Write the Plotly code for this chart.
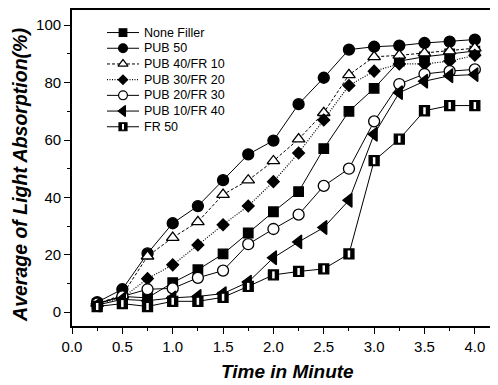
import plotly.graph_objects as go

# ---------------- data ----------------
time_min = [0.25, 0.5, 0.75, 1.0, 1.25, 1.5, 1.75, 2.0, 2.25, 2.5, 2.75, 3.0, 3.25, 3.5, 3.75, 4.0]
none_filler = [3, 5.5, 5, 10.3, 14.8, 20.3, 27.6, 35, 42, 57, 70, 78, 87.5, 89, 90, 91]
pub50 = [3.5, 8, 20.5, 31, 37, 46, 55, 59.8, 72.5, 81.7, 91.5, 92.5, 92.9, 93.8, 94.3, 95]
pub40_fr10 = [3, 6, 19.5, 26, 31.5, 41, 46, 52.7, 60.3, 69.5, 82.7, 89, 89.5, 90.3, 91, 92]
pub30_fr20 = [3, 5, 11.7, 16.5, 23.4, 30.5, 37, 45.5, 55.5, 67, 79, 84, 86.5, 86.5, 87.5, 89.5]
pub20_fr30 = [3, 5.5, 8, 8.3, 12, 14.5, 23.7, 29, 34, 44, 50, 66.5, 79.5, 83, 84, 84.6]
pub10_fr40 = [2.5, 4.5, 4, 5, 5.5, 6.5, 10.5, 19, 24.5, 29.5, 39, 62, 76.5, 80.5, 82.4, 82.8]
fr50 = [2, 3, 2, 3.8, 3.8, 5.2, 9, 13, 14.2, 15.1, 20.3, 52.8, 60.3, 70.2, 72, 72]

series_names = ["None Filler", "PUB 50", "PUB 40/FR 10", "PUB 30/FR 20",
                "PUB 20/FR 30", "PUB 10/FR 40", "FR 50"]
series_values = [none_filler, pub50, pub40_fr10, pub30_fr20, pub20_fr30, pub10_fr40, fr50]

x_tick_vals = [0.0, 0.5, 1.0, 1.5, 2.0, 2.5, 3.0, 3.5, 4.0]
x_tick_text = ["0.0", "0.5", "1.0", "1.5", "2.0", "2.5", "3.0", "3.5", "4.0"]
y_tick_vals = [0, 20, 40, 60, 80, 100]

# ---------------- styles ----------------
FONT = "Liberation Sans, Arial, sans-serif"
styles = [
    dict(symbol="square", size=9.5, color="black", dash="solid", lw=1.0),
    dict(symbol="circle", size=11, color="black", dash="solid", lw=1.0),
    dict(symbol="triangle-up", size=11, color="white", dash="3px,2px", lw=1.0),
    dict(symbol="diamond", size=9, color="black", dash="1px,1.5px", lw=1.2),
    dict(symbol="circle", size=11, color="white", dash="solid", lw=1.0),
    dict(symbol="triangle-left", size=12, color="black", dash="solid", lw=1.0),
    dict(symbol="square", size=10, color="black", dash="solid", lw=1.0),
]

# page has an 8px body margin: figure is placed at (8, 8) in the window
PAGE_OFF = 8
FIG_W, FIG_H = 498 - PAGE_OFF, 385 - PAGE_OFF
M_L, M_T = 72 - PAGE_OFF, 0
M_R = 0
M_B = FIG_H - (326 - PAGE_OFF)
PLOT_W = FIG_W - M_L - M_R
PLOT_H = FIG_H - M_T - M_B

fig = go.Figure()

for name, vals, st in zip(series_names, series_values, styles):
    fig.add_trace(go.Scatter(
        x=time_min, y=vals, mode="lines+markers", name=name, showlegend=False,
        line=dict(color="black", width=st["lw"], dash=st["dash"]),
        marker=dict(symbol=st["symbol"], size=st["size"], color=st["color"],
                    line=dict(color="black", width=1.3)),
    ))
    if name == "FR 50":
        # white stripe to imitate the half-filled square
        fig.add_trace(go.Scatter(
            x=time_min, y=vals, mode="markers", showlegend=False, hoverinfo="skip",
            marker=dict(symbol="line-ns", size=5, color="white",
                        line=dict(color="white", width=2.5)),
        ))

# ---------------- custom legend (overlay pixel axes) ----------------
leg_top = 30.7 - 8
leg_step = 15.8
leg_x0, leg_x1, leg_xm, leg_tx = 35, 67, 51, 70
for i, (name, st) in enumerate(zip(series_names, styles)):
    yy = leg_top + i * leg_step
    fig.add_trace(go.Scatter(
        x=[leg_x0, leg_xm, leg_x1], y=[yy, yy, yy], xaxis="x2", yaxis="y2",
        mode="lines", showlegend=False, hoverinfo="skip",
        line=dict(color="black", width=st["lw"], dash=st["dash"]),
    ))
    fig.add_trace(go.Scatter(
        x=[leg_xm], y=[yy], xaxis="x2", yaxis="y2", mode="markers",
        showlegend=False, hoverinfo="skip",
        marker=dict(symbol=st["symbol"], size=st["size"] * 0.8, color=st["color"],
                    line=dict(color="black", width=1.2)),
    ))
    if name == "FR 50":
        fig.add_trace(go.Scatter(
            x=[leg_xm], y=[yy], xaxis="x2", yaxis="y2", mode="markers",
            showlegend=False, hoverinfo="skip",
            marker=dict(symbol="line-ns", size=4, color="white",
                        line=dict(color="white", width=2)),
        ))
    fig.add_annotation(x=leg_tx, y=yy, xref="x2", yref="y2", text=name,
                       showarrow=False, xanchor="left", yanchor="middle",
                       font=dict(family=FONT, size=12.5, color="black"))

# ---------------- axes titles ----------------
fig.add_annotation(x=(287 - 72) / PLOT_W, y=(326 - 372) / PLOT_H, xref="paper", yref="paper",
                   text="<b><i>Time in Minute</i></b>", showarrow=False,
                   xanchor="center", yanchor="middle",
                   font=dict(family=FONT, size=19, color="black"))
fig.add_annotation(x=(20 - 72) / PLOT_W, y=(326 - 174) / PLOT_H, xref="paper", yref="paper",
                   text="<b><i>Average of Light Absorption(%)</i></b>", showarrow=False,
                   textangle=-90, xanchor="center", yanchor="middle",
                   font=dict(family=FONT, size=19.5, color="black"))

fig.update_layout(
    width=FIG_W, height=FIG_H,
    margin=dict(l=M_L, r=M_R, t=M_T, b=M_B, pad=0),
    paper_bgcolor="white", plot_bgcolor="white",
    font=dict(family=FONT, color="black"),
    xaxis=dict(
        range=[0, 4.23], tickvals=x_tick_vals, ticktext=x_tick_text,
        ticks="outside", ticklen=6, tickwidth=1.3, tickcolor="black",
        showline=True, linecolor="black", linewidth=1.8, mirror=True,
        showgrid=False, zeroline=False,
        tickfont=dict(family=FONT, size=15, color="black"),
        minor=dict(dtick=0.25, tick0=0, ticks="outside", ticklen=3.5,
                   tickwidth=1.1, tickcolor="black", showgrid=False),
    ),
    yaxis=dict(
        range=[-4.8, 105.3], tickvals=y_tick_vals,
        ticks="outside", ticklen=6, tickwidth=1.3, tickcolor="black",
        showline=True, linecolor="black", linewidth=1.8,
        showgrid=False, zeroline=False,
        tickfont=dict(family=FONT, size=15, color="black"),
        minor=dict(dtick=10, tick0=0, ticks="outside", ticklen=3.5,
                   tickwidth=1.1, tickcolor="black", showgrid=False),
    ),
    xaxis2=dict(overlaying="x", anchor="y2", range=[0, PLOT_W], visible=False),
    yaxis2=dict(overlaying="y", anchor="x2", range=[PLOT_H, 0], visible=False),
)

fig.write_html("out.html")
